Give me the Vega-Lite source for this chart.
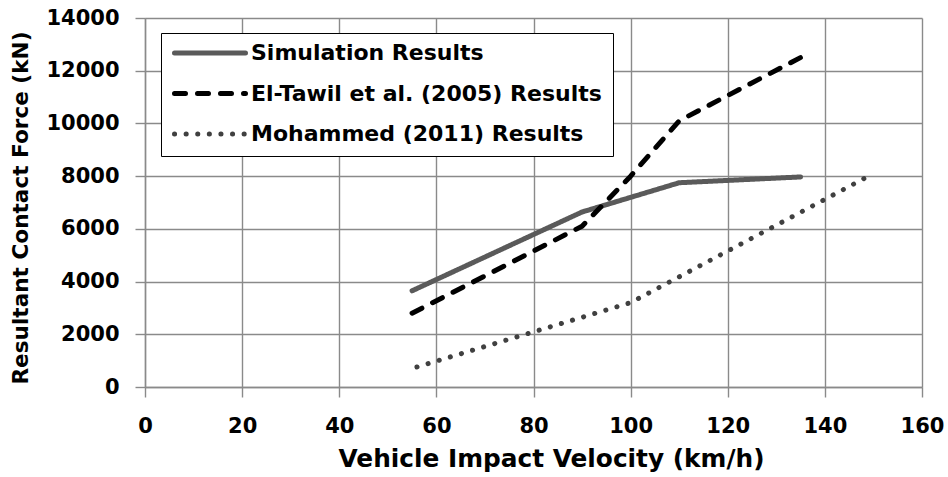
{
  "$schema": "https://vega.github.io/schema/vega-lite/v6.json",
  "width": 777,
  "height": 369,
  "autosize": "none",
  "padding": {"left": 145, "top": 18, "right": 26, "bottom": 90},
  "background": "white",
  "config": {
    "view": {"stroke": null},
    "font": "DejaVu Sans"
  },
  "data": {
    "values": [
      {"series": "Simulation Results", "v": 55, "f": 3650},
      {"series": "Simulation Results", "v": 90, "f": 6640},
      {"series": "Simulation Results", "v": 110, "f": 7750},
      {"series": "Simulation Results", "v": 135, "f": 7970},
      {"series": "El-Tawil et al. (2005) Results", "v": 55, "f": 2800},
      {"series": "El-Tawil et al. (2005) Results", "v": 90, "f": 6100},
      {"series": "El-Tawil et al. (2005) Results", "v": 100, "f": 8000},
      {"series": "El-Tawil et al. (2005) Results", "v": 110, "f": 10100},
      {"series": "El-Tawil et al. (2005) Results", "v": 135, "f": 12500},
      {"series": "Mohammed  (2011) Results", "v": 56, "f": 760},
      {"series": "Mohammed  (2011) Results", "v": 100, "f": 3200},
      {"series": "Mohammed  (2011) Results", "v": 149, "f": 8000}
    ]
  },
  "mark": {"type": "line", "strokeWidth": 5, "strokeCap": "round", "strokeJoin": "round"},
  "encoding": {
    "x": {
      "field": "v", "type": "quantitative",
      "scale": {"domain": [0, 160], "nice": false, "zero": false},
      "axis": {
        "values": [0, 20, 40, 60, 80, 100, 120, 140, 160],
        "format": "d",
        "title": "Vehicle Impact Velocity (km/h)",
        "titleFont": "DejaVu Sans", "titleFontSize": 24.8, "titleFontWeight": "bold", "titleColor": "black",
        "titlePadding": 10, "titleX": 406,
        "labelFont": "DejaVu Sans", "labelFontSize": 21, "labelFontWeight": "bold", "labelColor": "black",
        "labelPadding": 18, "labelFlush": false,
        "grid": true, "gridColor": "#8a8a8a", "gridWidth": 1.4,
        "domain": true, "domainColor": "#8a8a8a", "domainWidth": 1.4,
        "ticks": true, "tickColor": "#8a8a8a", "tickWidth": 1.4, "tickSize": 10
      }
    },
    "y": {
      "field": "f", "type": "quantitative",
      "scale": {"domain": [0, 14000], "nice": false},
      "axis": {
        "values": [0, 2000, 4000, 6000, 8000, 10000, 12000, 14000],
        "format": "d",
        "title": "Resultant Contact Force (kN)",
        "titleFont": "DejaVu Sans", "titleFontSize": 21.6, "titleFontWeight": "bold", "titleColor": "black",
        "titlePadding": 13, "titleY": 189.5,
        "labelFont": "DejaVu Sans", "labelFontSize": 21, "labelFontWeight": "bold", "labelColor": "black",
        "labelPadding": 16, "labelFlush": false,
        "grid": true, "gridColor": "#8a8a8a", "gridWidth": 1.4,
        "domain": true, "domainColor": "#8a8a8a", "domainWidth": 1.4,
        "ticks": true, "tickColor": "#8a8a8a", "tickWidth": 1.4, "tickSize": 10
      }
    },
    "color": {
      "field": "series", "type": "nominal",
      "scale": {
        "domain": ["Simulation Results", "El-Tawil et al. (2005) Results", "Mohammed  (2011) Results"],
        "range": ["#5a5a5a", "#000000", "#404040"]
      },
      "legend": {
        "orient": "none", "legendX": 16, "legendY": 15,
        "title": null,
        "symbolType": "stroke", "symbolSize": 5041, "symbolStrokeWidth": 5,
        "clipHeight": 18, "rowPadding": 18.5,
        "labelFont": "DejaVu Sans", "labelFontSize": 22, "labelFontWeight": "bold", "labelColor": "black",
        "labelOffset": 3,
        "strokeColor": "black", "padding": 11, "fillColor": "white",
        "labelLimit": 500,
        "encode": {"symbols": {"update": {"strokeCap": {"value": "round"}}}}
      }
    },
    "strokeDash": {
      "field": "series", "type": "nominal",
      "scale": {
        "domain": ["Simulation Results", "El-Tawil et al. (2005) Results", "Mohammed  (2011) Results"],
        "range": [[1, 0], [11, 12], [0.1, 11.5]]
      },
      "legend": null
    }
  }
}
